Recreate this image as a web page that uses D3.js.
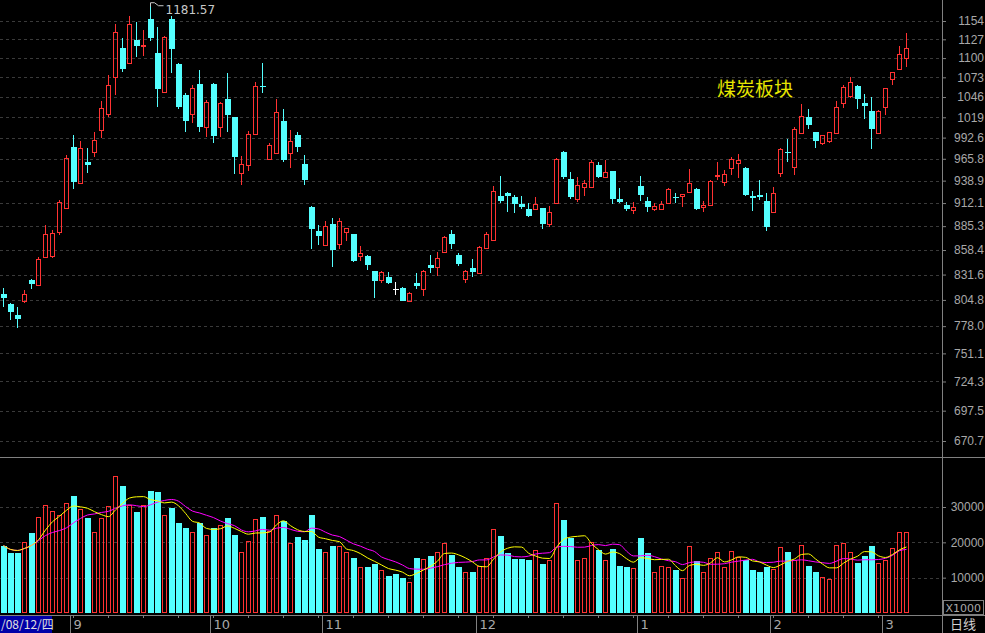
<!DOCTYPE html>
<html>
<head>
<meta charset="utf-8">
<script src="https://cdn.jsdelivr.net/npm/d3@7"></script>
<style>
  body { margin: 0; background: #000; }
  svg { display: block; font-family: "DejaVu Sans", sans-serif; }
</style>
</head>
<body>
<svg></svg>
<script>
// 日线 candles: [open, high, low, close]
const candles = [
  [811.4,817.7,797.0,806.3],[800.1,801.1,784.5,792.8],[789.7,797.0,776.2,785.5],[803.2,815.6,802.1,811.4],
  [826.0,827.0,816.6,821.8],[820.8,851.2,819.8,848.9],[851.2,886.7,850.0,876.7],[852.3,881.1,850.0,877.8],
  [878.9,916.2,875.5,913.8],[906.7,970.9,905.6,967.2],[980.9,995.8,929.1,937.4],[936.2,988.4,935.0,979.6],
  [962.2,979.6,948.5,958.5],[974.7,999.8,968.4,989.6],[1002.4,1040.7,992.1,1031.5],[1023.6,1076.5,1019.6,1062.6],
  [1073.7,1149.6,1048.8,1137.9],[1114.6,1129.2,1080.6,1084.8],[1093.1,1161.3,1091.7,1149.6],[1126.3,1152.5,1101.4,1117.5],
  [1117.5,1140.9,1102.9,1119.0],[1156.9,1181.57,1124.8,1129.2],[1107.3,1145.2,1032.8,1057.1],[1052.9,1132.1,1051.5,1130.6],
  [1156.9,1161.3,1079.2,1113.1],[1091.7,1093.1,1030.2,1032.8],[1048.8,1051.5,999.8,1014.3],[1023.6,1062.6,1011.7,1058.5],
  [1064.0,1083.4,999.8,1006.4],[1006.4,1042.0,993.2,1039.4],[1064.0,1065.4,985.9,994.5],[1006.4,1039.4,993.2,1038.1],
  [1043.4,1079.2,999.8,1022.2],[1019.6,1019.6,947.3,968.4],[948.5,969.7,933.8,959.7],[958.5,1001.1,951.0,997.2],
  [997.2,1066.8,995.8,1061.2],[1061.2,1093.1,1051.5,1059.8],[966.0,985.9,964.7,983.4],[973.4,1043.4,972.2,1026.2],
  [1014.3,1030.2,962.2,964.7],[973.4,1002.4,954.7,988.4],[995.8,999.8,974.7,980.9],[959.7,970.9,933.8,939.8],
  [907.9,909.1,860.0,882.2],[880.0,886.7,864.4,874.4],[864.4,891.4,863.3,885.5],[887.9,895.0,840.1,858.9],
  [865.6,895.0,860.0,891.4],[878.9,883.3,868.9,883.3],[876.7,876.7,845.6,846.7],[852.3,863.3,846.7,855.6],
  [852.3,853.4,836.7,842.3],[835.6,835.6,806.3,824.9],[826.0,835.6,822.9,834.5],[829.1,834.5,821.8,822.9],
  [816.6,823.9,810.4,816.6],[817.7,818.7,803.2,804.2],[804.2,813.5,803.2,812.5],[822.9,833.4,816.6,819.8],
  [816.6,836.7,809.4,835.6],[842.3,853.4,833.4,839.0],[840.1,856.7,830.1,850.0],[856.7,874.4,855.6,873.3],
  [876.7,881.1,860.0,865.6],[853.4,855.6,841.2,843.4],[827.0,836.7,822.9,835.6],[839.0,848.9,829.1,834.5],
  [833.4,863.3,832.3,862.2],[861.1,878.9,860.0,876.7],[870.0,932.7,868.9,926.8],[920.9,944.8,912.6,915.0],
  [924.4,925.6,902.0,920.9],[919.7,922.1,900.8,911.5],[911.5,920.9,905.6,907.9],[905.6,912.6,896.1,897.3],
  [905.6,919.7,904.4,911.5],[906.7,906.7,882.2,887.9],[887.9,909.1,884.4,902.0],[912.6,967.2,911.5,966.0],
  [974.7,975.9,941.0,943.5],[941.0,949.7,917.3,919.7],[917.3,943.5,913.8,933.8],[931.5,939.8,920.9,936.2],
  [931.5,964.7,930.3,962.2],[958.5,962.2,942.3,943.5],[943.5,964.7,942.3,949.7],[951.0,951.0,911.5,917.3],
  [917.3,930.3,912.6,913.8],[910.3,913.8,903.2,905.6],[904.4,913.8,899.7,907.9],[932.7,944.8,915.0,922.1],
  [915.0,919.7,902.0,907.9],[905.6,912.6,903.2,909.1],[905.6,915.0,904.4,911.5],[912.6,930.3,911.5,929.1],
  [919.7,924.4,912.6,919.2],[920.9,923.2,907.9,923.2],[925.6,953.5,924.4,936.2],[929.1,930.3,904.4,905.6],
  [907.9,915.0,902.0,910.3],[910.3,939.8,909.1,938.5],[944.8,962.2,939.8,946.0],[937.4,952.2,932.7,947.3],
  [954.7,968.4,946.0,966.0],[960.9,972.2,942.3,964.7],[954.7,956.0,920.9,922.1],[920.9,926.8,903.2,918.5],
  [922.1,939.8,916.2,919.7],[915.0,924.4,880.0,884.4],[902.0,931.5,900.8,924.4],[948.5,979.6,943.5,978.4],
  [974.7,990.9,962.2,974.0],[956.0,1006.4,946.0,1003.8],[998.5,1036.8,997.2,1020.9],[1019.6,1030.2,1003.8,1009.0],
  [999.8,999.8,979.6,988.4],[985.9,995.8,983.4,995.8],[988.4,999.8,985.9,999.8],[998.5,1040.7,997.2,1032.8],
  [1038.1,1062.6,1031.5,1059.8],[1047.4,1073.7,1044.7,1066.8],[1061.2,1062.6,1030.2,1043.4],[1038.1,1050.1,1017.0,1034.1],
  [1027.5,1046.0,978.4,1003.8],[998.5,1028.8,997.2,1027.5],[1032.8,1058.5,1022.2,1058.5],[1070.9,1080.6,1062.6,1080.6],
  [1084.8,1117.5,1083.4,1105.8],[1100.0,1136.5,1087.5,1114.6]
];

// 成交量 (x1000)
const volumes = [
  19100,16900,17100,20000,22600,27100,30600,28900,27700,31100,33100,29400,26900,22900,26900,30300,
  38900,36000,30600,28600,30600,34600,34300,27700,29700,25400,24000,22900,25400,22000,24000,24900,
  26900,22000,17400,20300,26600,27100,23100,27700,26000,19700,21400,20600,27700,18000,17400,18900,
  18900,17400,15700,13100,12900,14000,12300,10600,10900,10000,8900,15700,15400,16000,17400,19700,
  16300,12900,11700,11700,13400,15700,23700,21700,17100,15400,15400,15100,17700,14000,14900,31100,
  26300,21100,15100,15700,20000,17700,14900,18000,13400,12900,12700,21300,16900,11600,13300,13000,
  12100,9900,19000,14800,11600,15600,17300,13000,17600,15900,15000,12200,11600,13000,12500,18700,
  17300,15000,19300,13300,11600,10100,9600,19300,19900,17300,14200,16200,19000,14200,15000,18400,
  22800,23000
];

const priceTicks = [1154, 1127, 1100, 1073, 1046, 1019, 992.6, 965.8, 938.9, 912.1, 885.3, 858.4,
  831.6, 804.8, 778.0, 751.1, 724.3, 697.5, 670.7];
const volTicks = [10000, 20000, 30000];
const months = [{ label: "9", i: 10 }, { label: "10", i: 30 }, { label: "11", i: 46 },
  { label: "12", i: 68 }, { label: "1", i: 91 }, { label: "2", i: 110 }, { label: "3", i: 126 }];

const W = 985, H = 633, axisX = 942;
const RED = "#ff3232", CYAN = "#54ffff", GRID = "#3a3a3a", FRAME = "#808080", TXT = "#a8a8a8";

const svg = d3.select("svg").attr("width", W).attr("height", H);
svg.append("rect").attr("width", W).attr("height", H).attr("fill", "#000");

const x = d3.scaleBand().domain(d3.range(candles.length)).range([0, candles.length * 7]);
const left = i => Math.round(x(i));
const cx = i => left(i) + 3.5;
const y = d3.scaleLog().domain([670.7, 1154]).range([441, 21]);
const yv = d3.scaleLinear().domain([0, 30000]).range([613, 507]);
const ry = v => Math.round(v) + 0.5;

// grid lines
svg.append("g").selectAll("line").data(priceTicks).join("line")
  .attr("x1", 0).attr("x2", axisX).attr("y1", d => ry(y(d))).attr("y2", d => ry(y(d)))
  .attr("stroke", GRID).attr("stroke-dasharray", "3,3");
svg.append("g").selectAll("line").data(volTicks).join("line")
  .attr("x1", 0).attr("x2", axisX).attr("y1", d => ry(yv(d))).attr("y2", d => ry(yv(d)))
  .attr("stroke", GRID).attr("stroke-dasharray", "3,3");

// frame
svg.append("line").attr("x1", axisX + 0.5).attr("x2", axisX + 0.5).attr("y1", 0).attr("y2", H).attr("stroke", FRAME);
svg.append("line").attr("x1", 0).attr("x2", W).attr("y1", 457.5).attr("y2", 457.5).attr("stroke", FRAME);
svg.append("line").attr("x1", 0).attr("x2", W).attr("y1", 615.5).attr("y2", 615.5).attr("stroke", FRAME);

// right axis
const pAxis = d3.axisRight(y).tickValues(priceTicks).tickSize(4).tickFormat(d => d >= 1000 && d % 1 === 0 ? d : d.toFixed(1));
const gp = svg.append("g").attr("transform", `translate(${axisX},0)`).call(pAxis);
const vAxis = d3.axisRight(yv).tickValues(volTicks).tickSize(4).tickFormat(d3.format("d"));
const gv = svg.append("g").attr("transform", `translate(${axisX},0)`).call(vAxis);
for (const g of [gp, gv]) {
  g.select(".domain").remove();
  g.selectAll(".tick line").attr("stroke", FRAME);
  g.selectAll(".tick text").attr("x", W - axisX - 1).attr("text-anchor", "end")
    .attr("fill", TXT).attr("font-size", 12);
}

// candles
const cg = svg.append("g").attr("shape-rendering", "crispEdges");
candles.forEach((d, i) => {
  const [o, h, l, c] = d;
  const col = c > o ? RED : (c === o ? "#ffffff" : CYAN);
  const xc = cx(i);
  const top = Math.round(y(Math.max(o, c))), bot = Math.round(y(Math.min(o, c)));
  if (c > o) {
    cg.append("line").attr("x1", xc).attr("x2", xc).attr("y1", y(h)).attr("y2", top).attr("stroke", col);
    cg.append("line").attr("x1", xc).attr("x2", xc).attr("y1", bot).attr("y2", y(l)).attr("stroke", col);
    cg.append("rect").attr("x", left(i) + 1.5).attr("y", top + 0.5).attr("width", 4).attr("height", Math.max(1, bot - top))
      .attr("fill", "none").attr("stroke", col);
  } else {
    cg.append("line").attr("x1", xc).attr("x2", xc).attr("y1", y(h)).attr("y2", y(l)).attr("stroke", col);
    cg.append("rect").attr("x", left(i) + 1).attr("y", top).attr("width", 6).attr("height", Math.max(1, bot - top))
      .attr("fill", col);
  }
});

// high marker
const hiIdx = d3.maxIndex(candles, d => d[1]);
const hiY = y(candles[hiIdx][1]);
svg.append("path").attr("d", `M${cx(hiIdx)},${hiY + 4}V${hiY}h4l4,3h5`).attr("fill", "none").attr("stroke", "#c8c8c8");
svg.append("text").attr("x", cx(hiIdx) + 15).attr("y", hiY + 11).attr("fill", "#c8c8c8")
  .attr("font-size", 12).text(candles[hiIdx][1].toFixed(2));

svg.append("text").attr("x", 717).attr("y", 96).attr("fill", "#e6e600").attr("font-size", 19)
  .attr("font-family", "Noto Sans CJK SC").text("煤炭板块");

// volume bars
const vg = svg.append("g").attr("shape-rendering", "crispEdges");
volumes.forEach((v, i) => {
  const up = candles[i][3] > candles[i][0];
  const t = Math.round(yv(v));
  if (up) {
    vg.append("rect").attr("x", left(i) + 1.5).attr("y", t + 0.5).attr("width", 4).attr("height", 612 - t)
      .attr("fill", "none").attr("stroke", RED);
  } else {
    vg.append("rect").attr("x", left(i) + 1).attr("y", t).attr("width", 6).attr("height", 613 - t)
      .attr("fill", CYAN);
  }
});

// volume moving averages
const ma = n => volumes.map((v, i) => d3.mean(volumes.slice(Math.max(0, i - n + 1), i + 1)));
const line = d3.line().x((d, i) => cx(i)).y(d => yv(d)).curve(d3.curveMonotoneX);
svg.append("path").attr("d", line(ma(10))).attr("fill", "none").attr("stroke", "#ff00ff");
svg.append("path").attr("d", line(ma(5))).attr("fill", "none").attr("stroke", "#ffff00");

// bottom axis
const bg = svg.append("g").attr("shape-rendering", "crispEdges");
d3.range(0, candles.length, 5).forEach(i => {
  bg.append("line").attr("x1", cx(i)).attr("x2", cx(i)).attr("y1", 615).attr("y2", 618).attr("stroke", FRAME);
});
months.forEach(m => {
  const xm = left(m.i) + 0.5;
  bg.append("line").attr("x1", xm).attr("x2", xm).attr("y1", 615).attr("y2", 633).attr("stroke", FRAME);
  bg.append("text").attr("x", xm + 3).attr("y", 629).attr("fill", TXT).attr("font-size", 13).text(m.label);
});
bg.append("rect").attr("x", 0).attr("y", 616).attr("width", 52).attr("height", 17).attr("fill", "#0000a8");
bg.append("text").attr("x", 1).attr("y", 629).attr("fill", "#e0e0e0").attr("font-size", 12)
  .attr("font-family", "Noto Sans CJK SC").text("/08/12/四");
svg.append("rect").attr("x", 943.5).attr("y", 600.5).attr("width", 40).attr("height", 14)
  .attr("fill", "none").attr("stroke", FRAME);
svg.append("text").attr("x", 981).attr("y", 612).attr("text-anchor", "end").attr("fill", TXT)
  .attr("font-size", 11).text("X1000");
svg.append("text").attr("x", 963).attr("y", 629).attr("text-anchor", "middle").attr("fill", "#d0d0d0")
  .attr("font-size", 13).attr("font-family", "Noto Sans CJK SC").text("日线");
</script>
</body>
</html>
